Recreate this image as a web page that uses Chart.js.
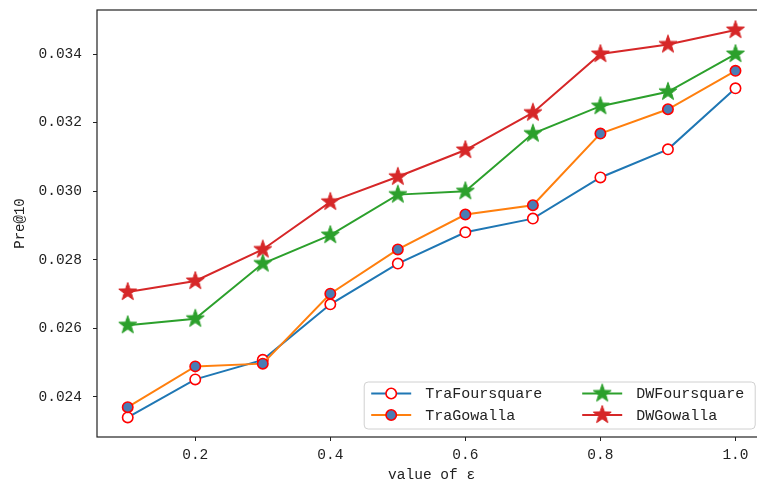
<!DOCTYPE html>
<html>
<head>
<meta charset="utf-8">
<script src="https://cdn.jsdelivr.net/npm/chart.js@4.4.1/dist/chart.umd.min.js"></script>
<style>
html,body{margin:0;padding:0;background:#fff;overflow:hidden;}
#wrap{position:absolute;left:0;top:0;width:773px;height:484px;}
</style>
</head>
<body>
<div id="wrap"><canvas id="c"></canvas></div>
<script>
// ---- data ----
const xValues = [0.1, 0.2, 0.3, 0.4, 0.5, 0.6, 0.7, 0.8, 0.9, 1.0];
const traFoursquare = [0.0234, 0.02451, 0.02508, 0.0267, 0.02789, 0.0288, 0.0292, 0.0304, 0.03122, 0.0330];
const traGowalla    = [0.0237, 0.02489, 0.02497, 0.02701, 0.0283, 0.02932, 0.02959, 0.03168, 0.03239, 0.03351];
const dwFoursquare  = [0.02609, 0.02628, 0.02789, 0.02872, 0.0299, 0.0300, 0.03168, 0.03248, 0.0329, 0.0340];
const dwGowalla     = [0.02706, 0.02738, 0.0283, 0.02969, 0.03042, 0.0312, 0.03229, 0.0340, 0.03428, 0.0347];
const seriesNames = ['TraFoursquare', 'TraGowalla', 'DWFoursquare', 'DWGowalla'];
const xTickValues = [0.2, 0.4, 0.6, 0.8, 1.0];
const yTickValues = [0.024, 0.026, 0.028, 0.030, 0.032, 0.034];
const xTitle = 'value of ε';
const yTitle = 'Pre@10';

// ---- styles ----
const FONT = "'Liberation Mono', 'DejaVu Sans Mono', monospace";
const C_BLUE = '#1f77b4', C_ORANGE = '#ff7f0e', C_GREEN = '#2ca02c', C_RED = '#d62728';
const EDGE_RED = '#ff0000', FILL_BLUE = '#4a7db4';

function starImg(color, r) {
  const s = Math.ceil(r * 2 + 3);
  const c = document.createElement('canvas');
  c.width = s; c.height = s;
  const ctx = c.getContext('2d');
  const cx = s / 2, cy = s / 2;
  ctx.beginPath();
  for (let i = 0; i < 10; i++) {
    const ang = -Math.PI / 2 + i * Math.PI / 5;
    const rad = (i % 2) ? r * 0.40 : r;
    const px = cx + rad * Math.cos(ang), py = cy + rad * Math.sin(ang);
    if (i === 0) ctx.moveTo(px, py); else ctx.lineTo(px, py);
  }
  ctx.closePath();
  ctx.fillStyle = color; ctx.fill();
  ctx.strokeStyle = color; ctx.lineWidth = 1; ctx.stroke();
  return c;
}
const starGreen = starImg(C_GREEN, 9.5);
const starRed = starImg(C_RED, 9.5);

const toPts = arr => xValues.map((x, i) => ({x: x, y: arr[i]}));

const datasets = [
  {label: seriesNames[0], data: toPts(traFoursquare), borderColor: C_BLUE, borderWidth: 2,
   pointRadius: 5.2, pointBackgroundColor: '#ffffff', pointBorderColor: EDGE_RED, pointBorderWidth: 1.6, order: 4},
  {label: seriesNames[1], data: toPts(traGowalla), borderColor: C_ORANGE, borderWidth: 2,
   pointRadius: 5.2, pointBackgroundColor: FILL_BLUE, pointBorderColor: EDGE_RED, pointBorderWidth: 1.6, order: 3},
  {label: seriesNames[2], data: toPts(dwFoursquare), borderColor: C_GREEN, borderWidth: 2,
   pointStyle: starGreen, order: 2},
  {label: seriesNames[3], data: toPts(dwGowalla), borderColor: C_RED, borderWidth: 2,
   pointStyle: starRed, order: 1}
];
datasets.forEach(d => { d.backgroundColor = d.borderColor; d.tension = 0; d.fill = false; });

const framePlugin = {
  id: 'frame',
  afterDatasetsDraw(chart) {
    const a = chart.chartArea, ctx = chart.ctx;
    ctx.save();
    ctx.strokeStyle = '#222'; ctx.lineWidth = 1.2;
    ctx.strokeRect(a.left, a.top, a.right - a.left, a.bottom - a.top);
    ctx.restore();
  }
};

const legendPlugin = {
  id: 'boxLegend',
  afterDraw(chart) {
    const a = chart.chartArea, ctx = chart.ctx;
    const bw = 391, bh = 47;
    const bx = a.right - 11 - bw, by = a.bottom - 8 - bh;
    ctx.save();
    const r = 4;
    ctx.beginPath();
    ctx.moveTo(bx + r, by); ctx.lineTo(bx + bw - r, by); ctx.quadraticCurveTo(bx + bw, by, bx + bw, by + r);
    ctx.lineTo(bx + bw, by + bh - r); ctx.quadraticCurveTo(bx + bw, by + bh, bx + bw - r, by + bh);
    ctx.lineTo(bx + r, by + bh); ctx.quadraticCurveTo(bx, by + bh, bx, by + bh - r);
    ctx.lineTo(bx, by + r); ctx.quadraticCurveTo(bx, by, bx + r, by);
    ctx.closePath();
    ctx.fillStyle = 'rgba(255,255,255,0.85)'; ctx.fill();
    ctx.strokeStyle = '#d0d0d0'; ctx.lineWidth = 1; ctx.stroke();
    const cols = [bx + 7, bx + 218];
    const rows = [by + 11.5, by + 33];
    const entries = [[0, 0, 0], [1, 0, 1], [2, 1, 0], [3, 1, 1]];
    ctx.font = '15px ' + FONT;
    ctx.textBaseline = 'middle';
    ctx.textAlign = 'left';
    entries.forEach(([di, ci, ri]) => {
      const d = datasets[di];
      const x0 = cols[ci], y0 = rows[ri];
      ctx.strokeStyle = d.borderColor; ctx.lineWidth = 2;
      ctx.beginPath(); ctx.moveTo(x0, y0); ctx.lineTo(x0 + 40, y0); ctx.stroke();
      const mx = x0 + 20;
      if (d.pointStyle && typeof d.pointStyle !== 'string') {
        const img = d.pointStyle;
        ctx.drawImage(img, mx - img.width / 2, y0 - img.height / 2);
      } else {
        ctx.beginPath(); ctx.arc(mx, y0, 5.2, 0, Math.PI * 2);
        ctx.fillStyle = d.pointBackgroundColor; ctx.fill();
        ctx.strokeStyle = d.pointBorderColor; ctx.lineWidth = 1.6; ctx.stroke();
      }
      ctx.fillStyle = '#222';
      ctx.fillText(d.label, x0 + 54, y0 + 1);
    });
    ctx.restore();
  }
};

new Chart(document.getElementById('c'), {
  type: 'line',
  data: {datasets: datasets},
  plugins: [framePlugin, legendPlugin],
  options: {
    responsive: true,
    maintainAspectRatio: false,
    animation: false,
    events: [],
    layout: {padding: {left: 0, top: 10, right: 4, bottom: 0}},
    plugins: {legend: {display: false}, tooltip: {enabled: false}},
    scales: {
      x: {
        type: 'linear', min: 0.0545, max: 1.0455,
        afterBuildTicks: s => { s.ticks = xTickValues.map(v => ({value: v})); },
        afterFit: s => { s.height = 47; s.paddingLeft = 0; s.paddingRight = 0; },
        grid: {display: true, drawOnChartArea: false, drawTicks: true, tickLength: 4, color: '#222'},
        border: {display: false},
        ticks: {color: '#222', padding: 5, maxRotation: 0, autoSkip: false,
                font: {family: FONT, size: 14.5},
                callback: v => Number(v).toFixed(1)},
        title: {display: true, text: xTitle, color: '#222', font: {family: FONT, size: 14.5},
                padding: {top: 0, bottom: 0}}
      },
      y: {
        type: 'linear', min: 0.02283, max: 0.035285,
        afterBuildTicks: s => { s.ticks = yTickValues.map(v => ({value: v})); },
        afterFit: s => { s.width = 97; s.paddingTop = 0; s.paddingBottom = 0; },
        grid: {display: true, drawOnChartArea: false, drawTicks: true, tickLength: 4, color: '#222'},
        border: {display: false},
        ticks: {color: '#222', padding: 11, autoSkip: false,
                font: {family: FONT, size: 14.5},
                callback: v => Number(v).toFixed(3)},
        title: {display: true, text: yTitle, color: '#222', font: {family: FONT, size: 14},
                padding: {top: 12, bottom: 0}}
      }
    }
  }
});
</script>
</body>
</html>
